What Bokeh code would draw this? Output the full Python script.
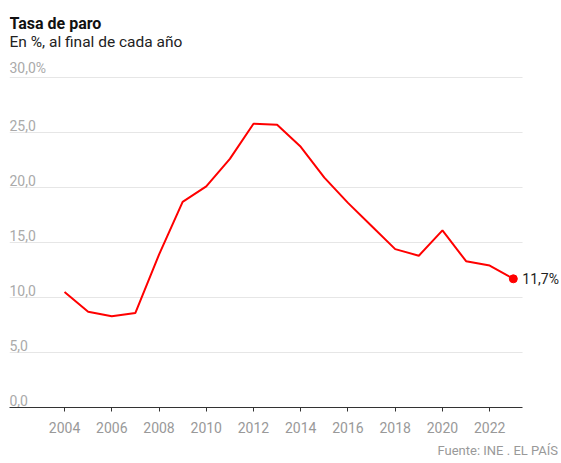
from bokeh.plotting import figure
from bokeh.models import Range1d, FixedTicker, Title, ColumnDataSource, Label
from bokeh.core.properties import value
from bokeh.embed import file_html
from bokeh.resources import INLINE

years = [2004, 2005, 2006, 2007, 2008, 2009, 2010, 2011, 2012, 2013,
         2014, 2015, 2016, 2017, 2018, 2019, 2020, 2021, 2022, 2023]
rate = [10.5, 8.7, 8.3, 8.6, 13.9, 18.7, 20.1, 22.6, 25.8, 25.7,
        23.7, 20.9, 18.6, 16.5, 14.4, 13.8, 16.1, 13.3, 12.9, 11.7]
y_ticks = [0, 5, 10, 15, 20, 25, 30]
y_tick_labels = ["0,0", "5,0", "10,0", "15,0", "20,0", "25,0", "30,0%"]
x_ticks = [2004, 2006, 2008, 2010, 2012, 2014, 2016, 2018, 2020, 2022]
last_label = "11,7%"
title_text = "Tasa de paro"
subtitle_text = "En %, al final de cada año"
source_text = "Fuente: INE . EL PAÍS"

FONT = "Roboto"
X0, X1 = 2001.67, 2023.39   # extent of axis line and gridlines
XEND = 2025.04               # right edge of canvas
YEND = 37.0                  # top edge of canvas

p = figure(width=561, height=463, output_backend="svg", toolbar_location=None,
           x_range=Range1d(X0, XEND), y_range=Range1d(0, YEND),
           min_border_left=9, min_border_right=0, min_border_top=0, min_border_bottom=55)
p.outline_line_color = None
p.background_fill_color = "white"
p.border_fill_color = "white"
p.title.visible = False

# title and subtitle (screen units, from frame's bottom-left)
p.add_layout(Label(x=0, y=384, x_units="screen", y_units="screen", text=title_text,
                   text_font=FONT, text_font_size="16px", text_font_style="bold",
                   text_color="#111111", text_baseline="alphabetic", text_align="left"))
p.add_layout(Label(x=0, y=366, x_units="screen", y_units="screen", text=subtitle_text,
                   text_font=FONT, text_font_size="15.5px", text_font_style="normal",
                   text_color="#222222", text_baseline="alphabetic", text_align="left"))

# source
src_title = Title(text=source_text, text_font=FONT, text_font_size="13px",
                  text_font_style="normal", text_color="#999999", offset=428, standoff=11,
                  text_line_height=0.8)
p.add_layout(src_title, "below")

# axes
p.yaxis.visible = False
xa = p.xaxis[0]
xa.ticker = FixedTicker(ticks=x_ticks)
xa.bounds = (X0, X1)
xa.formatter.use_scientific = False
xa.axis_line_color = "#333333"
xa.major_tick_line_color = "#333333"
xa.major_tick_in = 0
xa.major_tick_out = 4
xa.minor_tick_line_color = None
xa.major_label_text_color = "#999999"
xa.major_label_text_font = FONT
xa.major_label_text_font_size = "14px"
xa.major_label_standoff = 10

p.xgrid.visible = False
p.ygrid.visible = False

# horizontal gridlines (limited extent)
g_ticks = y_ticks[1:]
p.segment(x0=[X0] * len(g_ticks), x1=[X1] * len(g_ticks), y0=g_ticks, y1=g_ticks,
          line_color="#e6e6e6", line_width=1)

# y labels above gridlines
lab_src = ColumnDataSource(dict(x=[X0] * len(y_ticks), y=y_ticks, t=y_tick_labels))
p.text(x="x", y="y", text="t", source=lab_src, text_font=value(FONT),
       text_font_size="14px", text_color="#aaaaaa", text_baseline="bottom",
       text_align="left", y_offset=-2)

# line
p.line(years, rate, line_color="#ff0000", line_width=2)
p.scatter([years[-1]], [rate[-1]], size=8, fill_color="#ff0000", line_color="#ff0000")
p.text(x=[years[-1]], y=[rate[-1]], text=[last_label], text_font=value(FONT),
       text_font_size="14px", text_color="#222222", text_baseline="middle",
       text_align="left", x_offset=9)

open("out.html", "w").write(file_html(p, INLINE))
